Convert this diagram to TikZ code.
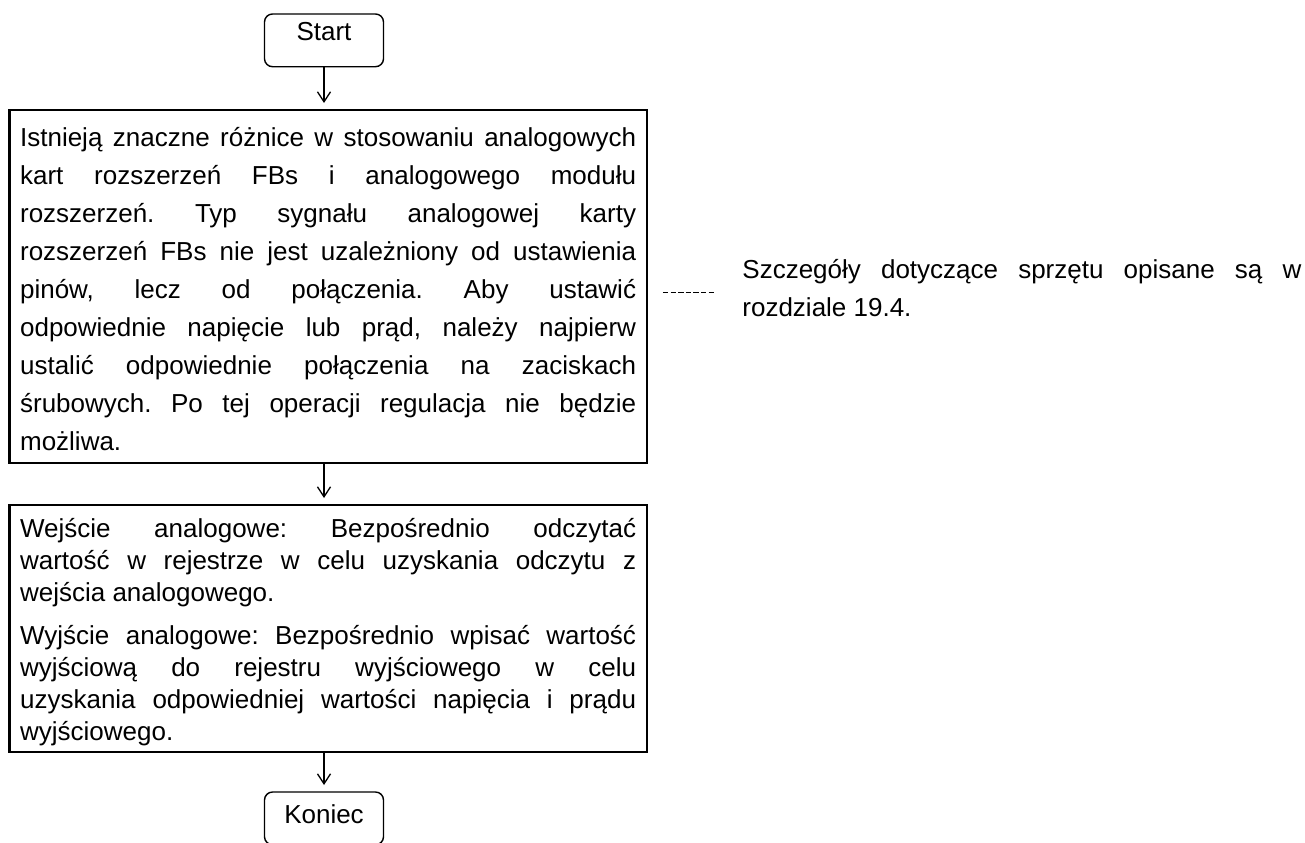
\documentclass[tikz,border=0pt]{standalone}
\usepackage{fontspec}
\setmainfont{Liberation Sans}
\usetikzlibrary{arrows.meta}
\frenchspacing

\begin{document}
\begin{tikzpicture}[x=0.5pt,y=-0.5pt,
        term/.style={draw, line width=0.7pt, rounded corners=4pt, outer sep=0pt,
            inner sep=0pt, minimum width=59.5pt, text height=13.35pt, text depth=13pt,
            anchor=north west, font=\fontsize{13pt}{19pt}\selectfont},
        block/.style={draw, line width=1.3pt, outer sep=0pt, inner xsep=5.4pt, inner ysep=0pt,
            text width=308pt, align=justify, anchor=north west,
            font=\fontsize{13pt}{19pt}\selectfont},
        flow/.style={-{Straight Barb[length=5pt,width=6.5pt]}, line width=0.65pt, shorten >=3.5pt}]
        \useasboundingbox (0,0) rectangle (1305,842);

        \coordinate (S) at (264.5,14);
        \coordinate (A) at (9.3,110);
        \coordinate (B) at (9.3,505);
        \coordinate (K) at (264.5,792);
        \coordinate (N) at (742,292);

        \node [term] (start) at (S) {Start};
        \node [block, text height=18.35pt, text depth=158.15pt] (info) at (A)
            {Istnieją znaczne różnice w stosowaniu analogowych\linebreak
            kart rozszerzeń FBs i analogowego modułu\linebreak
            rozszerzeń. Typ sygnału analogowej karty\linebreak
            rozszerzeń FBs nie jest uzależniony od ustawienia\linebreak
            pinów, lecz od połączenia. Aby ustawić\linebreak
            odpowiednie napięcie lub prąd, należy najpierw\linebreak
            ustalić odpowiednie połączenia na zaciskach\linebreak
            śrubowych. Po tej operacji regulacja nie będzie\linebreak
            możliwa.};
        \node [block, text height=16pt, text depth=107.5pt,
            font=\fontsize{13pt}{16pt}\selectfont] (io) at (B)
            {\setlength{\parskip}{5.5pt}%
            Wejście analogowe: Bezpośrednio odczytać\linebreak
            wartość w rejestrze w celu uzyskania odczytu z\linebreak
            wejścia analogowego.\par
            Wyjście analogowe: Bezpośrednio wpisać wartość\linebreak
            wyjściową do rejestru wyjściowego w celu\linebreak
            uzyskania odpowiedniej wartości napięcia i prądu\linebreak
            wyjściowego.};
        \node [term, text height=15.5pt, text depth=10.85pt] (koniec) at (K) {Koniec};
        \node [anchor=west, inner sep=0pt, text width=279.5pt, align=justify,
            text height=9pt, text depth=23pt,
            font=\fontsize{13pt}{19pt}\selectfont] (note) at (N)
            {Szczegóły dotyczące sprzętu opisane są w\linebreak
            rozdziale 19.4.};

        \draw [flow] (start.south) -- (start.south |- info.north);
        \draw [flow] (start.south |- info.south) -- (start.south |- io.north);
        \draw [flow] (start.south |- io.south) -- (koniec.north);
        \draw [line width=0.5pt, dash pattern=on 2.7pt off 1.1pt,
            shorten <=8pt, shorten >=13.5pt] (info.east |- note.west) -- (note.west);
    \end{tikzpicture}
\end{document}
